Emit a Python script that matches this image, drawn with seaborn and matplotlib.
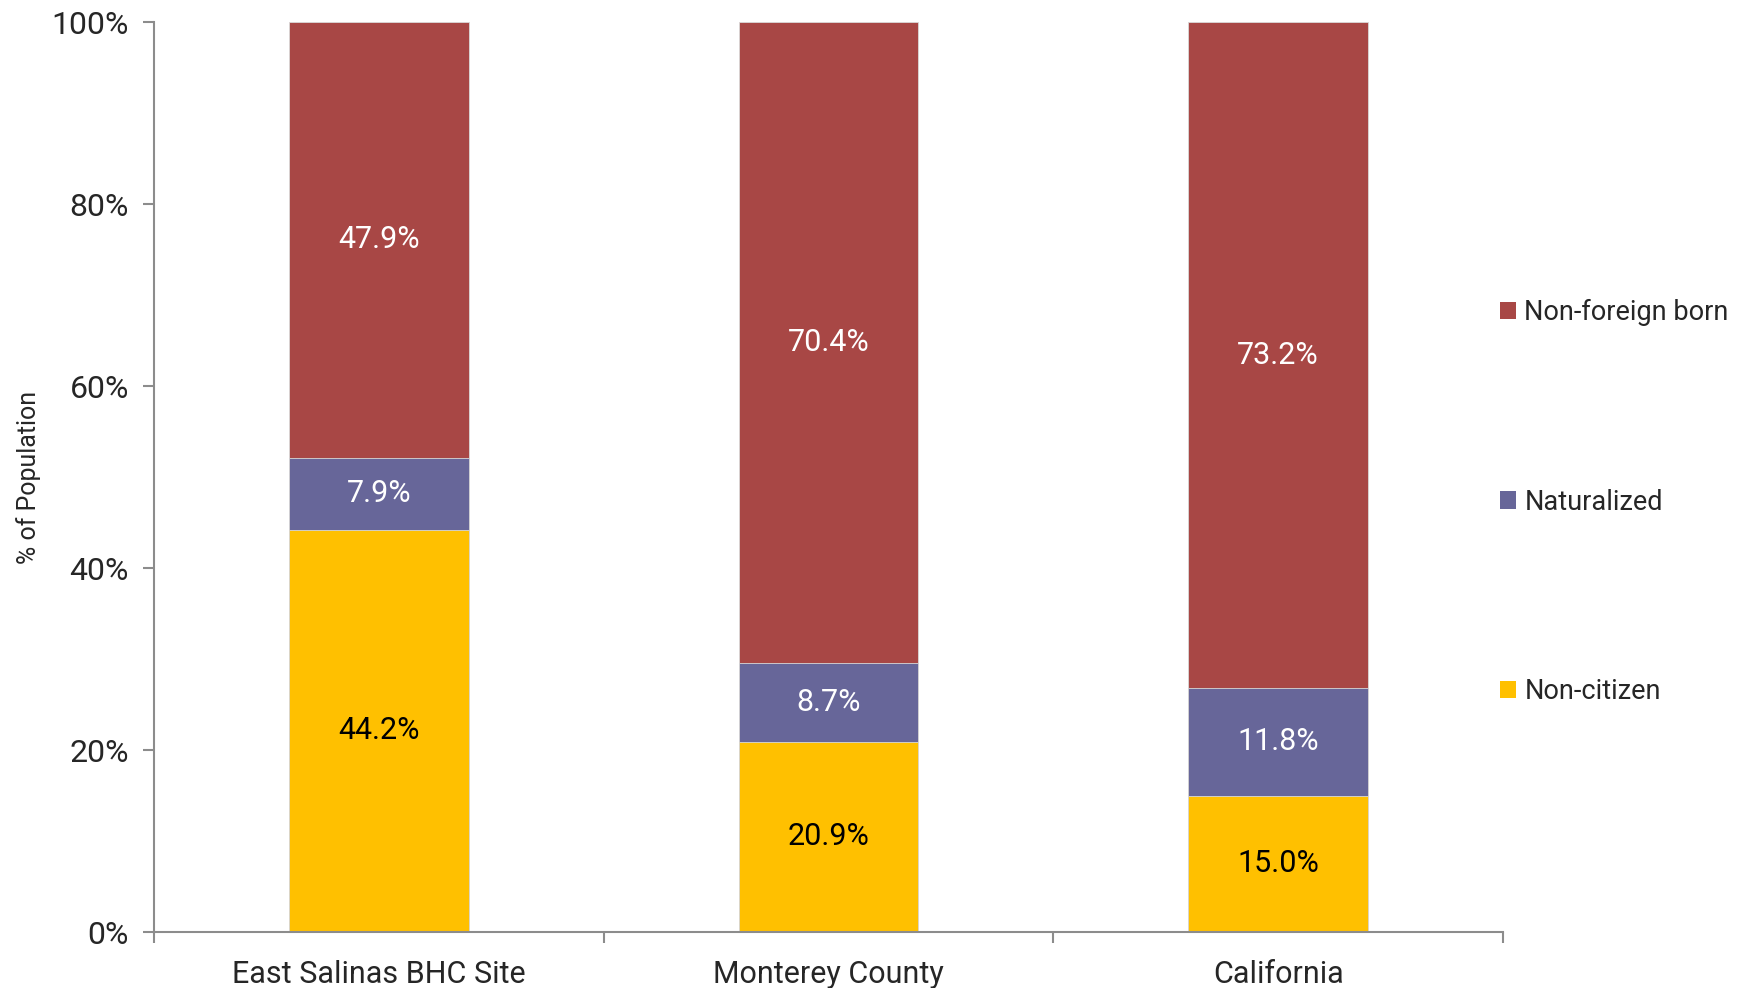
import pandas as pd
import seaborn as sns
import matplotlib
import matplotlib.pyplot as plt
matplotlib.use('Agg')

sites = ["East Salinas BHC Site", "Monterey County", "California"]
non_citizen = [44.2, 20.9, 15.0]
naturalized = [7.9, 8.7, 11.8]
non_foreign = [47.9, 70.4, 73.2]

colors = {"Non-foreign born": "#A84745", "Naturalized": "#676699", "Non-citizen": "#FFC000"}

sns.set_style("white")
plt.rcParams['font.family'] = ['Roboto', 'DejaVu Sans']

df = pd.DataFrame({
    "site": sites,
    "Non-citizen": non_citizen,
    "Naturalized": naturalized,
    "Non-foreign born": non_foreign,
})
df["top_nat"] = df["Non-citizen"] + df["Naturalized"]
df["top_all"] = df["top_nat"] + df["Non-foreign born"]

fig = plt.figure(figsize=(17.48, 9.88), dpi=100)
ax = fig.add_axes([154 / 1748, 1 - 932 / 988, (1503 - 154) / 1748, (932 - 22) / 988])

# cumulative layers, drawn back to front
sns.barplot(data=df, x="site", y="top_all", color=colors["Non-foreign born"], width=0.4,
            saturation=1, edgecolor="#d9d9d9", linewidth=0.6, ax=ax, label="Non-foreign born")
sns.barplot(data=df, x="site", y="top_nat", color=colors["Naturalized"], width=0.4,
            saturation=1, edgecolor="#d9d9d9", linewidth=0.6, ax=ax, label="Naturalized")
sns.barplot(data=df, x="site", y="Non-citizen", color=colors["Non-citizen"], width=0.4,
            saturation=1, edgecolor="#d9d9d9", linewidth=0.6, ax=ax, label="Non-citizen")

# segment labels
for i, row in df.iterrows():
    ax.text(i, row["Non-citizen"] / 2, f"{row['Non-citizen']:.1f}%", ha="center", va="center",
            fontsize=22, color="black")
    ax.text(i, row["Non-citizen"] + row["Naturalized"] / 2, f"{row['Naturalized']:.1f}%",
            ha="center", va="center", fontsize=22, color="white")
    ax.text(i, row["top_nat"] + row["Non-foreign born"] / 2, f"{row['Non-foreign born']:.1f}%",
            ha="center", va="center", fontsize=22, color="white")

ax.set_xlim(-0.5, 2.5)
ax.set_ylim(0, 100)
ax.set_yticks(range(0, 101, 20))
ax.set_yticklabels([f"{v}%" for v in range(0, 101, 20)])
ax.set_xticks([-0.5, 0.5, 1.5, 2.5], minor=True)
ax.tick_params(axis="x", which="major", bottom=False, length=0, pad=20, labelsize=22)
ax.tick_params(axis="x", which="minor", bottom=True, length=8, color="#8c8c8c", width=1.5,
               direction="out")
ax.tick_params(axis="y", left=True, length=8, color="#8c8c8c", width=1.5, direction="out",
               pad=10, labelsize=23)
ax.set_xlabel("")
ax.set_ylabel("% of Population", fontsize=18)
ax.yaxis.set_label_coords(-0.084, 0.5)

sns.despine(ax=ax)
for s in ["left", "bottom"]:
    ax.spines[s].set_color("#8c8c8c")
    ax.spines[s].set_linewidth(1.5)

handles, labels = ax.get_legend_handles_labels()
leg = ax.legend(handles, labels, loc="center left", bbox_to_anchor=(1500 / 1748, 1 - 502 / 988),
                bbox_transform=fig.transFigure, frameon=False, fontsize=19.5,
                handlelength=0.6, handleheight=0.6, handletextpad=0.3, labelspacing=6.0,
                borderaxespad=0, borderpad=0)
for h in leg.legend_handles:
    h.set_edgecolor("none")

fig.savefig("out.png", dpi=100)
